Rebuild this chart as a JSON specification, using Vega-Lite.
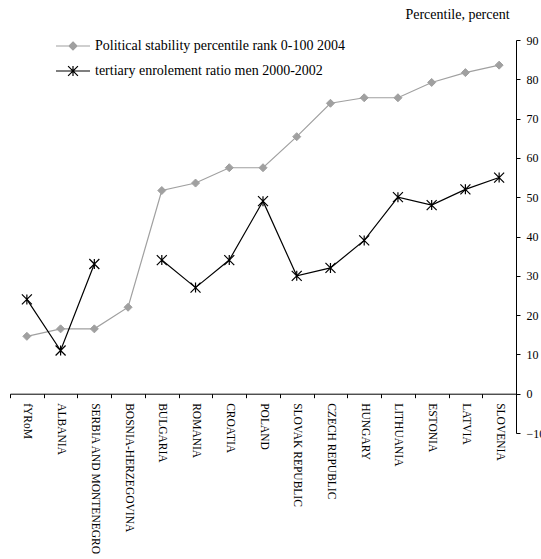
{
  "$schema": "https://vega.github.io/schema/vega-lite/v6.json",
  "width": 506,
  "height": 393,
  "autosize": {"type": "none"},
  "padding": {"left": 10, "top": 40, "right": 25, "bottom": 126},
  "background": "white",
  "config": {
    "font": "Liberation Serif",
    "view": {"stroke": null}
  },
  "data": {
    "values": [
      {"country": "fYRoM", "series": "Political stability percentile rank 0-100 2004", "value": 14.6},
      {"country": "ALBANIA", "series": "Political stability percentile rank 0-100 2004", "value": 16.5},
      {"country": "SERBIA AND MONTENEGRO", "series": "Political stability percentile rank 0-100 2004", "value": 16.5},
      {"country": "BOSNIA-HERZEGOVINA", "series": "Political stability percentile rank 0-100 2004", "value": 22},
      {"country": "BULGARIA", "series": "Political stability percentile rank 0-100 2004", "value": 51.7},
      {"country": "ROMANIA", "series": "Political stability percentile rank 0-100 2004", "value": 53.6},
      {"country": "CROATIA", "series": "Political stability percentile rank 0-100 2004", "value": 57.5},
      {"country": "POLAND", "series": "Political stability percentile rank 0-100 2004", "value": 57.5},
      {"country": "SLOVAK  REPUBLIC", "series": "Political stability percentile rank 0-100 2004", "value": 65.4},
      {"country": "CZECH REPUBLIC", "series": "Political stability percentile rank 0-100 2004", "value": 73.9},
      {"country": "HUNGARY", "series": "Political stability percentile rank 0-100 2004", "value": 75.3},
      {"country": "LITHUANIA", "series": "Political stability percentile rank 0-100 2004", "value": 75.3},
      {"country": "ESTONIA", "series": "Political stability percentile rank 0-100 2004", "value": 79.2},
      {"country": "LATVIA", "series": "Political stability percentile rank 0-100 2004", "value": 81.7},
      {"country": "SLOVENIA", "series": "Political stability percentile rank 0-100 2004", "value": 83.6},
      {"country": "fYRoM", "series": "tertiary enrolement ratio men 2000-2002", "value": 24},
      {"country": "ALBANIA", "series": "tertiary enrolement ratio men 2000-2002", "value": 11},
      {"country": "SERBIA AND MONTENEGRO", "series": "tertiary enrolement ratio men 2000-2002", "value": 33},
      {"country": "BOSNIA-HERZEGOVINA", "series": "tertiary enrolement ratio men 2000-2002", "value": null},
      {"country": "BULGARIA", "series": "tertiary enrolement ratio men 2000-2002", "value": 34},
      {"country": "ROMANIA", "series": "tertiary enrolement ratio men 2000-2002", "value": 27},
      {"country": "CROATIA", "series": "tertiary enrolement ratio men 2000-2002", "value": 34},
      {"country": "POLAND", "series": "tertiary enrolement ratio men 2000-2002", "value": 49},
      {"country": "SLOVAK  REPUBLIC", "series": "tertiary enrolement ratio men 2000-2002", "value": 30},
      {"country": "CZECH REPUBLIC", "series": "tertiary enrolement ratio men 2000-2002", "value": 32},
      {"country": "HUNGARY", "series": "tertiary enrolement ratio men 2000-2002", "value": 39},
      {"country": "LITHUANIA", "series": "tertiary enrolement ratio men 2000-2002", "value": 50},
      {"country": "ESTONIA", "series": "tertiary enrolement ratio men 2000-2002", "value": 48},
      {"country": "LATVIA", "series": "tertiary enrolement ratio men 2000-2002", "value": 52},
      {"country": "SLOVENIA", "series": "tertiary enrolement ratio men 2000-2002", "value": 55}
    ]
  },
  "encoding": {
    "x": {
      "field": "country",
      "type": "nominal",
      "sort": null,
      "bandPosition": 0.5,
      "scale": {"type": "band", "paddingInner": 0, "paddingOuter": 0},
      "axis": {
        "title": null,
        "offset": -39.3,
        "tickBand": "extent",
        "labelAngle": 90,
        "labelAlign": "left",
        "labelBaseline": "middle",
        "labelFontSize": 11.5,
        "labelColor": "#000000",
        "labelPadding": 5,
        "tickSize": 4,
        "tickColor": "#000000",
        "domainColor": "#000000",
        "labelLimit": 300
      }
    },
    "y": {
      "field": "value",
      "type": "quantitative",
      "scale": {"domain": [-10, 90], "nice": false, "zero": false},
      "axis": {
        "orient": "right",
        "values": [-10, 0, 10, 20, 30, 40, 50, 60, 70, 80, 90],
        "grid": false,
        "tickSize": 4,
        "tickColor": "#000000",
        "domainColor": "#000000",
        "labelColor": "#000000",
        "labelFontSize": 12,
        "labelPadding": 6,
        "title": "Percentile, percent",
        "titleAngle": 0,
        "titleX": -59,
        "titleY": -26,
        "titleAlign": "center",
        "titleBaseline": "middle",
        "titleFontWeight": "normal",
        "titleFontSize": 14,
        "titleColor": "#000000"
      }
    }
  },
  "layer": [
    {
      "mark": {"type": "line", "strokeWidth": 1.2, "invalid": "break-paths-show-domains"},
      "encoding": {
        "color": {
          "field": "series",
          "type": "nominal",
          "scale": {
            "domain": ["Political stability percentile rank 0-100 2004", "tertiary enrolement ratio men 2000-2002"],
            "range": ["#a0a0a0", "#000000"]
          },
          "legend": {
            "title": null,
            "orient": "none",
            "legendX": 45,
            "legendY": -12,
            "labelFontSize": 14,
            "labelColor": "#000000",
            "labelLimit": 400,
            "symbolSize": 1156,
            "labelOffset": 4,
            "rowPadding": -7,
            "encode": {
              "symbols": {
                "update": {
                  "shape": {"signal": "datum.value === 'tertiary enrolement ratio men 2000-2002' ? 'M-1,0L1,0M-0.29,-0.29L0.29,0.29M-0.29,0.29L0.29,-0.29M0,-0.29L0,0.29' : 'M-1,0L1,0M0,-0.235L0.235,0L0,0.235L-0.235,0Z'"},
                  "size": {"value": 1156},
                  "strokeWidth": {"value": 1.2},
                  "fill": {"signal": "datum.value === 'tertiary enrolement ratio men 2000-2002' ? 'transparent' : '#a0a0a0'"},
                  "stroke": {"signal": "datum.value === 'tertiary enrolement ratio men 2000-2002' ? '#000000' : '#a0a0a0'"},
                  "opacity": {"value": 1}
                }
              }
            }
          }
        }
      }
    },
    {
      "transform": [{"filter": "datum.series === 'Political stability percentile rank 0-100 2004'"}],
      "mark": {"type": "point", "shape": "diamond", "size": 64, "filled": true, "fill": "#a0a0a0", "stroke": "#a0a0a0", "strokeWidth": 1, "opacity": 1}
    },
    {
      "transform": [{"filter": "datum.series === 'tertiary enrolement ratio men 2000-2002' && datum.value != null"}],
      "mark": {"type": "point", "shape": "M-1,-1L1,1M-1,1L1,-1M0,-1L0,1", "size": 100, "filled": false, "fill": "transparent", "stroke": "#000000", "strokeWidth": 1.2, "opacity": 1}
    }
  ]
}
